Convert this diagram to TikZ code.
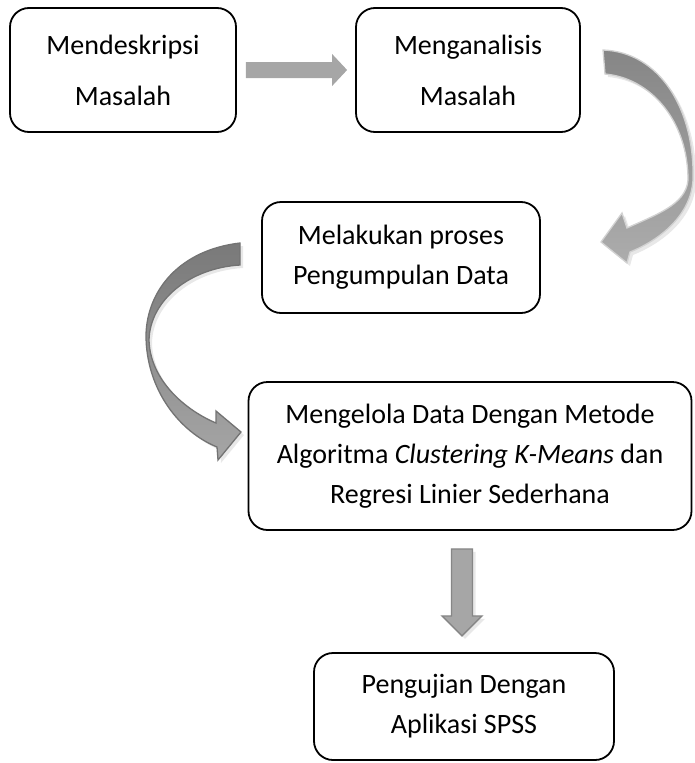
\documentclass[tikz,border=0pt]{standalone}
\usepackage{fontspec}
\setmainfont{Carlito}
\usetikzlibrary{calc,shadows}

\tikzset{
  stepbox/.style={draw=black, line width=1.8pt, rounded corners=19pt, fill=white,
    align=center, inner sep=0pt, font=\fontsize{28}{40}\selectfont},
  flatarrow/.style={fill=gray!70},
  blockarrow/.style={fill=gray!70, draw=gray!95, line width=1.3pt,
    drop shadow={opacity=0.18, shadow xshift=3pt, shadow yshift=-3pt}},
  bendarrow/.style={top color=gray!95, bottom color=gray!65, draw=gray!35, line width=1.3pt,
    drop shadow={opacity=0.18, shadow xshift=3pt, shadow yshift=-3pt}},
  bendarrowdark/.style={top color=gray!105, bottom color=gray!70, draw=gray!110, line width=1.3pt,
    drop shadow={opacity=0.18, shadow xshift=3pt, shadow yshift=-3pt}}
}

\begin{document}
\begin{tikzpicture}[x=1pt, y=-1pt]
\useasboundingbox (0,0) rectangle (694,763);

% Shaft and head of the straight arrows
\def\shaft{8}
\def\head{16}

% Boxes
\node[stepbox, minimum width=226, minimum height=124] (desc) at (123,70)
  {Mendeskripsi\\[11pt] Masalah};
\node[stepbox, minimum width=224, minimum height=124] (anls) at (468,70)
  {Menganalisis\\[11pt] Masalah};
\node[stepbox, minimum width=278, minimum height=111] (kumpul) at (401,257.5)
  {Melakukan proses\\ Pengumpulan Data};
\node[stepbox, minimum width=443, minimum height=148] (olah) at (470,456)
  {Mengelola Data Dengan Metode\\ Algoritma \textit{Clustering K-Means} dan\\ Regresi Linier Sederhana};
\node[stepbox, minimum width=300, minimum height=107] (uji) at (464,706.5)
  {Pengujian Dengan\\ Aplikasi SPSS};

% Straight arrow: desc -> anls
\coordinate (a1) at ($(desc.east)+(9,0)$);
\coordinate (a2) at ($(anls.west)+(-8,0)$);
\fill[flatarrow] ($(a1)+(0,-\shaft)$) -- ($(a2)+(-15,-\shaft)$) -- ($(a2)+(-15,-\head)$)
  -- (a2) -- ($(a2)+(-15,\head)$) -- ($(a2)+(-15,\shaft)$) -- ($(a1)+(0,\shaft)$) -- cycle;

% Curved arrow: anls -> kumpul
\path[bendarrow] (603,50) .. controls (660,52) and (695,110) .. (693,180)
  .. controls (691,215) and (660,240) .. (630,252)
  -- (627,263) -- (601,242) -- (622,213) -- (627,228)
  .. controls (655,215) and (686,205) .. (688,180)
  .. controls (688,120) and (650,78) .. (605,74) -- cycle;

% Curved arrow: kumpul -> olah
\path[bendarrowdark] (240,243) .. controls (180,250) and (147,290) .. (146,335)
  .. controls (146,390) and (180,432) .. (217,447)
  -- (218,460) -- (241,432) -- (216,411) -- (216,423)
  .. controls (185,410) and (150,380) .. (149,340)
  .. controls (150,300) and (190,268) .. (240,265) -- cycle;

% Down arrow: olah -> uji
\coordinate (b1) at ($(olah.south)+(-8,18)$);
\coordinate (b2) at ($(b1)+(0,87)$);
\path[blockarrow] ($(b1)+(-10.5,0)$) -- ($(b2)+(-10.5,-20)$) -- ($(b2)+(-20,-20)$)
  -- (b2) -- ($(b2)+(20,-20)$) -- ($(b2)+(10.5,-20)$) -- ($(b1)+(10.5,0)$) -- cycle;

\end{tikzpicture}
\end{document}
